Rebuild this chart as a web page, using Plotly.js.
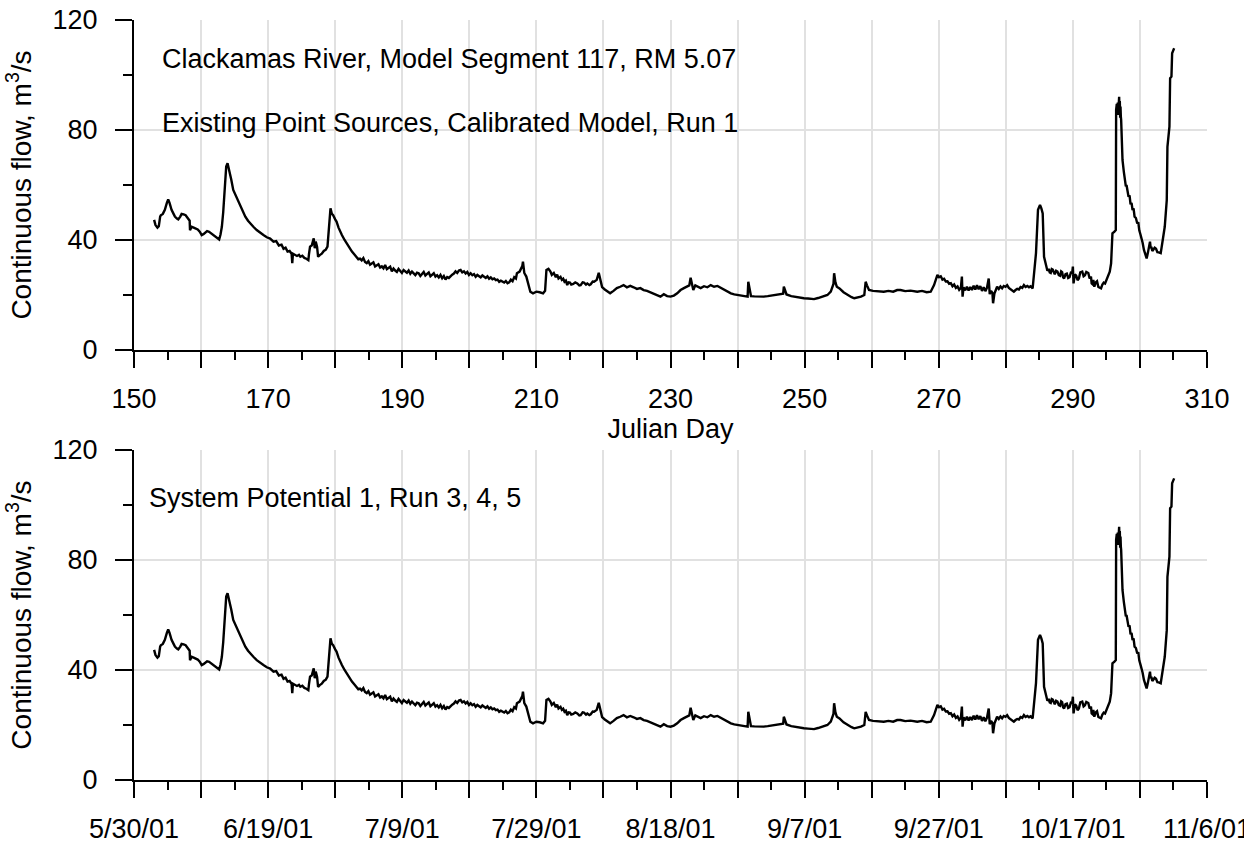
<!DOCTYPE html>
<html>
<head>
<meta charset="utf-8">
<script src="https://cdn.plot.ly/plotly-3.0.1.min.js"></script>
<style>html,body{margin:0;padding:0;background:#fff;}#chart{width:1244px;height:848px;}</style>
</head>
<body>
<div id="chart"></div>
<script>
// Julian day of each reading
const days = [
153.0,153.2,153.5,153.7,153.9,154.0,154.3,154.6,154.9,155.1,
155.3,155.6,155.9,156.1,156.4,156.6,156.9,157.1,157.4,157.7,
158.0,158.3,158.35,158.6,158.9,159.2,159.5,159.8,160.1,160.4,
160.6,160.9,161.2,161.5,161.8,162.1,162.4,162.7,162.9,163.1,
163.3,163.45,163.6,163.75,163.95,164.1,164.3,164.5,164.8,165.1,
165.4,165.8,166.2,166.6,167.0,167.4,167.8,168.3,168.8,169.3,
169.8,170.3,170.8,171.2,171.6,172.0,172.3,172.6,172.9,173.2,
173.5,173.6,173.7,174.0,174.3,174.6,174.8,175.1,175.4,175.7,
176.0,176.1,176.25,176.5,176.8,176.95,177.1,177.3,177.45,177.7,
178.0,178.3,178.6,178.85,179.05,179.3,179.5,179.7,180.0,180.2,
180.5,180.8,181.0,181.4,181.7,182.1,182.5,182.9,183.2,183.45,
183.7,183.95,184.2,184.45,184.7,184.95,185.2,185.45,185.7,185.95,
186.2,186.45,186.7,186.95,187.2,187.45,187.7,187.95,188.2,188.45,
188.7,188.95,189.2,189.45,189.7,189.95,190.2,190.45,190.7,190.95,
191.2,191.45,191.7,191.95,192.2,192.45,192.7,192.95,193.2,193.45,
193.7,193.95,194.2,194.45,194.7,194.95,195.2,195.45,195.7,195.95,
196.2,196.45,196.7,196.95,197.2,197.45,197.7,197.95,198.2,198.45,
198.7,198.95,199.2,199.45,199.7,199.95,200.2,200.45,200.7,200.95,
201.2,201.45,201.7,201.95,202.2,202.45,202.7,202.95,203.2,203.45,
203.7,203.95,204.2,204.45,204.7,204.95,205.2,205.45,205.7,205.95,
206.2,206.45,206.7,206.95,207.1,207.5,207.9,208.0,208.2,208.5,
208.8,209.1,209.5,210.0,210.5,211.0,211.3,211.5,211.8,212.1,
212.3,212.6,212.9,213.1,213.3,213.6,213.8,214.0,214.2,214.4,
214.6,214.8,215.0,215.2,215.5,215.8,216.1,216.4,216.6,216.9,
217.1,217.4,217.6,217.9,218.1,218.4,218.6,219.0,219.3,219.5,
219.8,220.2,220.6,221.0,221.5,222.0,222.5,223.0,223.5,224.0,
224.5,225.0,225.5,226.0,226.5,227.0,227.5,228.0,228.5,229.0,
229.5,230.0,230.5,231.0,231.5,232.0,232.5,232.8,233.0,233.2,
233.4,233.7,234.0,234.5,235.0,235.5,236.0,236.5,237.0,237.5,
238.0,238.5,239.0,239.5,240.0,240.5,241.0,241.5,241.6,241.8,
242.0,242.5,243.0,243.9,244.5,245.4,246.0,246.8,246.9,247.1,
247.3,248.0,248.4,249.0,249.9,250.5,251.4,252.0,252.9,253.4,
253.9,254.3,254.4,254.6,254.8,255.2,255.8,256.4,257.0,257.4,
258.0,258.4,258.9,259.1,259.3,259.6,260.2,261.0,261.8,262.5,
263.2,263.8,264.3,265.0,265.8,266.8,267.5,268.2,268.8,269.3,
269.6,269.8,270.05,270.3,270.55,270.8,271.05,271.3,271.55,271.8,
272.05,272.3,272.55,272.8,273.05,273.3,273.45,273.55,273.7,273.95,
274.2,274.45,274.7,274.95,275.2,275.45,275.7,275.95,276.2,276.45,
276.7,276.95,277.2,277.45,277.6,277.8,278.0,278.1,278.3,278.55,
278.7,278.95,279.2,279.45,279.7,279.95,280.2,280.45,280.7,280.95,
281.2,281.45,281.7,281.95,282.2,282.45,282.7,282.95,283.2,283.45,
283.7,284.0,284.2,284.5,284.8,285.1,285.3,285.5,285.7,286.0,
286.2,286.4,286.55,286.7,286.85,287.0,287.15,287.3,287.5,287.7,
287.9,288.1,288.25,288.4,288.55,288.7,288.9,289.1,289.3,289.5,
289.7,289.9,290.0,290.1,290.3,290.5,290.7,290.9,291.1,291.4,
291.6,291.8,292.0,292.3,292.5,292.7,292.8,292.9,293.05,293.2,
293.4,293.6,293.8,294.0,294.2,294.4,294.6,294.8,295.0,295.2,
295.5,295.7,295.9,296.2,296.4,296.45,296.55,296.6,296.7,296.75,
296.85,296.9,296.95,297.0,297.05,297.1,297.15,297.2,297.3,297.4,
297.6,297.8,297.9,298.0,298.1,298.2,298.3,298.45,298.6,298.75,
298.9,299.05,299.2,299.4,299.6,299.75,299.9,300.1,300.25,300.4,
300.6,300.8,301.0,301.2,301.5,301.6,301.7,301.85,302.0,302.2,
302.4,302.6,302.8,303.1,303.4,303.7,304.0,304.1,304.4,304.5,
304.7,304.8,305.1
];
// Continuous flow, m3/s (same series in both panels)
const flow = [
47.3,45.5,44.5,45.0,48.5,49.0,49.5,51.0,53.5,54.8,
53.5,51.0,49.5,48.5,47.8,47.5,48.5,49.5,49.3,49.0,
48.0,47.0,43.6,44.8,44.5,44.2,43.8,43.0,41.8,42.2,
42.6,43.2,43.0,42.5,42.0,41.5,41.0,40.2,42.0,44.8,
50.0,56.0,63.0,66.7,67.9,66.5,64.2,62.0,58.2,56.5,
55.0,52.5,50.3,48.5,47.0,45.8,44.8,43.6,42.6,41.8,
41.0,40.5,39.4,39.6,38.0,38.3,36.8,37.2,35.8,36.0,
35.0,31.6,35.0,34.5,34.2,34.6,33.9,34.3,33.5,33.2,
32.7,35.0,37.6,38.0,40.6,37.0,39.4,37.5,33.9,34.5,
35.0,36.0,36.5,37.6,44.8,51.5,49.5,49.0,47.5,46.7,
44.5,42.5,41.8,40.0,38.8,37.0,35.8,34.6,33.9,33.0,
33.2,32.6,33.4,32.0,31.6,32.3,31.0,31.5,31.9,30.4,
30.9,31.2,30.0,30.4,29.7,30.9,29.4,29.9,30.3,28.6,
29.6,28.9,28.4,29.5,28.7,28.0,29.1,28.6,28.1,28.9,
27.7,28.5,28.0,27.2,28.1,27.9,26.9,27.8,28.4,27.1,
27.6,28.2,26.8,27.5,27.9,26.7,27.2,26.4,27.3,26.1,
26.9,25.6,26.5,26.2,27.0,27.4,27.8,28.6,28.0,28.9,
29.1,28.2,28.6,27.8,28.4,27.3,27.9,27.2,27.6,26.6,
27.3,26.9,26.4,27.1,26.5,26.2,26.8,25.9,26.4,25.7,
26.0,25.4,25.6,24.8,25.2,24.9,24.5,25.1,24.3,24.6,
25.6,25.0,26.5,26.0,27.9,28.5,30.5,32.1,28.0,26.7,
24.0,21.2,20.6,21.2,21.0,20.6,21.5,29.1,29.5,28.5,
27.3,28.0,26.5,27.4,26.0,26.6,25.5,25.9,24.8,25.2,
23.6,24.6,24.5,23.8,24.0,24.6,24.2,23.5,23.6,24.6,
24.5,23.8,24.2,23.6,23.9,24.9,24.8,25.5,28.1,26.0,
22.9,22.0,21.3,20.6,21.5,22.5,23.0,23.6,22.8,23.3,
22.8,22.2,22.5,21.8,21.5,21.0,20.6,20.0,19.4,20.3,
19.6,19.4,19.8,20.6,21.8,22.5,23.0,23.5,26.3,24.0,
21.8,23.5,23.0,22.5,23.2,22.8,23.6,23.0,23.3,22.6,
21.8,21.2,20.6,20.2,20.0,19.6,19.5,19.4,24.8,22.0,
19.6,19.5,19.4,19.4,19.6,20.0,20.2,20.5,23.0,21.5,
20.2,19.6,19.4,19.0,18.8,18.7,18.5,18.9,19.6,20.0,
21.2,24.0,27.9,24.5,23.0,22.4,21.0,20.0,19.2,18.8,
19.0,19.4,20.0,24.8,23.5,21.8,21.5,21.3,21.2,21.5,
21.2,21.8,21.8,21.4,21.6,21.2,21.5,21.0,21.2,23.6,
25.5,27.3,26.5,26.8,25.6,25.9,24.9,25.0,24.1,24.3,
23.2,23.8,22.6,23.1,21.9,22.6,26.7,19.4,22.8,21.7,
23.0,21.6,22.9,21.8,23.4,22.0,23.6,22.1,23.2,21.5,
22.8,21.4,22.7,26.0,20.3,21.5,20.8,17.0,20.5,22.0,
23.0,22.2,23.1,22.4,23.3,23.0,23.6,22.6,22.1,21.6,
21.2,21.8,22.2,22.0,22.9,22.6,23.6,22.9,23.3,22.8,
23.2,22.4,26.7,35.2,51.0,52.7,51.5,49.7,33.9,30.3,
28.8,29.5,28.2,28.0,29.4,29.2,27.9,27.5,28.8,28.5,
27.2,27.0,28.6,28.3,26.4,26.0,27.6,27.8,26.2,26.5,
28.1,28.0,30.3,24.2,27.5,27.0,25.4,26.0,28.2,28.5,
26.8,27.2,28.4,28.0,26.0,26.7,24.2,24.0,25.5,23.0,
24.6,25.0,22.9,22.5,22.4,23.8,24.5,24.2,25.5,26.7,
28.5,31.5,42.4,43.0,43.6,87.3,89.5,86.5,90.0,85.5,
91.0,92.1,86.0,90.5,84.5,88.5,85.0,83.6,78.0,69.1,
64.8,62.0,59.5,60.0,58.2,57.0,55.7,56.2,53.0,53.5,
50.9,51.5,48.5,48.0,46.0,46.5,43.5,41.8,40.5,39.0,
36.4,35.0,33.3,35.5,39.4,37.0,37.5,36.0,36.4,37.2,
36.8,35.6,35.5,35.2,40.0,44.8,54.5,73.9,81.2,98.8,
99.4,107.9,109.7
];
// Axis ticks and labels
const majorDays = [150,160,170,180,190,200,210,220,230,240,250,260,270,280,290,300,310];
const julianLabels = ['150','','170','','190','','210','','230','','250','','270','','290','','310'];
const dateLabels = ['5/30/01','','6/19/01','','7/9/01','','7/29/01','','8/18/01','','9/7/01','','9/27/01','','10/17/01','','11/6/01'];
const flowTicks = [0,40,80,120];
const flowLabels = ['0','40','80','120'];
const panelNotes = [
  'Clackamas River, Model Segment 117, RM 5.07',
  'Existing Point Sources, Calibrated Model, Run 1',
  'System Potential 1, Run 3, 4, 5'
];

const FONT = 'Liberation Sans, Arial, Helvetica, sans-serif';
const FS = 27;

const traces = [
  {x: days, y: flow, xaxis: 'x', yaxis: 'y', type: 'scatter', mode: 'lines',
   line: {color: '#000', width: 2.4}, hoverinfo: 'x+y'},
  {x: days, y: flow, xaxis: 'x2', yaxis: 'y2', type: 'scatter', mode: 'lines',
   line: {color: '#000', width: 2.4}, hoverinfo: 'x+y'}
];

function xAxis(labels, anchor, title) {
  const ax = {
    anchor: anchor, domain: [0, 1], range: [150, 310], type: 'linear',
    tickmode: 'array', tickvals: majorDays, ticktext: labels,
    ticks: 'outside', ticklen: 16, tickwidth: 2, tickcolor: '#000',
    ticklabelstandoff: 8, ticklabeloverflow: 'allow',
    showline: true, linecolor: '#000', linewidth: 2,
    showgrid: true, gridcolor: '#e1e1e1', gridwidth: 2, zeroline: false,
    minor: {tick0: 150, dtick: 5, ticks: 'outside', ticklen: 8, tickwidth: 2, tickcolor: '#000', showgrid: false},
    tickfont: {family: FONT, size: FS, color: '#000'},
    fixedrange: true
  };
  if (title) ax.title = {text: title, font: {family: FONT, size: FS, color: '#000'}, standoff: 2};
  return ax;
}
function yAxis(domain, anchor) {
  return {
    anchor: anchor, domain: domain, range: [0, 120], type: 'linear',
    tickmode: 'array', tickvals: flowTicks, ticktext: flowLabels,
    ticks: 'outside', ticklen: 17, tickwidth: 2, tickcolor: '#000',
    ticklabelstandoff: 12,
    showline: true, linecolor: '#000', linewidth: 2,
    showgrid: true, gridcolor: '#e1e1e1', gridwidth: 2, zeroline: false,
    minor: {tick0: 0, dtick: 20, ticks: 'outside', ticklen: 9, tickwidth: 2, tickcolor: '#000', showgrid: false},
    tickfont: {family: FONT, size: FS, color: '#000'},
    title: {text: 'Continuous flow, m<sup>3</sup>/s', font: {family: FONT, size: 28, color: '#000'}, standoff: 13},
    fixedrange: true
  };
}

function note(text, xr, yr, x, y) {
  return {text: text, xref: xr, yref: yr, x: x, y: y, xanchor: 'left', yanchor: 'middle',
          showarrow: false, font: {family: FONT, size: FS, color: '#000'}};
}

const layout = {
  width: 1244, height: 848,
  margin: {l: 134, r: 37, t: 20, b: 68},
  paper_bgcolor: '#fff', plot_bgcolor: '#fff',
  font: {family: FONT, size: FS, color: '#000'},
  showlegend: false,
  xaxis: xAxis(julianLabels, 'y', 'Julian Day'),
  yaxis: yAxis([0.5658, 1], 'x'),
  xaxis2: xAxis(dateLabels, 'y2', null),
  yaxis2: yAxis([0, 0.4342], 'x2'),
  annotations: [
    note(panelNotes[0], 'x', 'y', 153.9, 105.8),
    note(panelNotes[1], 'x', 'y', 153.9, 82.5),
    note(panelNotes[2], 'x2', 'y2', 151.9, 102.5)
  ]
};

Plotly.newPlot('chart', traces, layout, {displayModeBar: false, staticPlot: true});
</script>
</body>
</html>
